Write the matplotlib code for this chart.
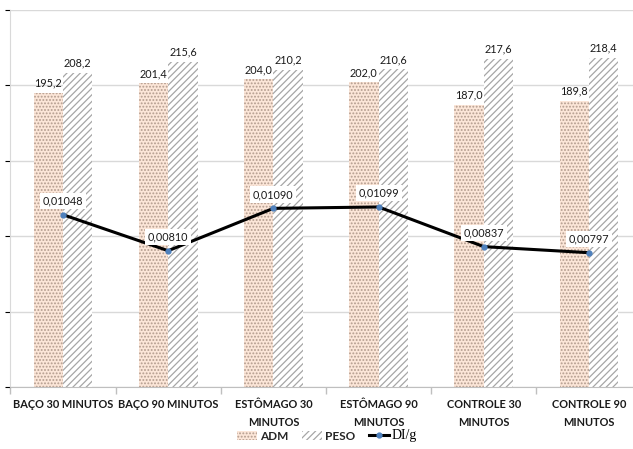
import matplotlib
matplotlib.use("Agg")
import matplotlib.pyplot as plt
import numpy as np
from matplotlib.lines import Line2D

categories = ["BAÇO 30 MINUTOS", "BAÇO 90 MINUTOS", "ESTÔMAGO 30\nMINUTOS",
              "ESTÔMAGO 90\nMINUTOS", "CONTROLE 30\nMINUTOS", "CONTROLE 90\nMINUTOS"]
adm = [195.2, 201.4, 204.0, 202.0, 187.0, 189.8]
peso = [208.2, 215.6, 210.2, 210.6, 217.6, 218.4]
dig = [0.01048, 0.00810, 0.01090, 0.01099, 0.00837, 0.00797]

plt.rcParams['font.family'] = ['Lato', 'DejaVu Sans']
plt.rcParams['hatch.linewidth'] = 0.9

fig = plt.figure(figsize=(6.33, 4.49), dpi=100)
ax = fig.add_axes([10.4/633, 62/449, 631.2/633, 377/449])

x = np.arange(len(categories))
w = 0.28
b1 = ax.bar(x - w/2, adm, w, facecolor='#fce6d8', edgecolor='#b39c8e',
            hatch='.....', linewidth=0, label='ADM', zorder=2)
b2 = ax.bar(x + w/2, peso, w, facecolor='white', edgecolor='#a6a6a6',
            hatch='/////', linewidth=0, label='PESO', zorder=2)

def fmt(v, nd):
    return f"{v:.{nd}f}".replace('.', ',')

for xi, v in zip(x - w/2, adm):
    ax.annotate(fmt(v, 1), (xi, v), xytext=(0, 7), textcoords='offset points',
                ha='center', va='center', fontsize=7.8, color='#1a1a1a')
for xi, v in zip(x + w/2, peso):
    ax.annotate(fmt(v, 1), (xi, v), xytext=(0, 7), textcoords='offset points',
                ha='center', va='center', fontsize=7.8, color='#1a1a1a')

ax.set_xlim(-0.5, len(categories) - 0.5)
ax.set_ylim(0, 250)
ax.set_yticks([0, 50, 100, 150, 200, 250])
ax.yaxis.grid(True, color='#d9d9d9', linewidth=1)
ax.set_axisbelow(True)
ax.tick_params(axis='y', left=False, labelleft=False)
ax.set_xticks(x)
ax.set_xticklabels(categories, fontsize=7.9, fontweight='bold', color='#1a1a1a',
                   linespacing=1.75)
ax.tick_params(axis='x', length=0, pad=9)
ax.set_xticks(np.arange(-0.5, len(categories)), minor=True)
ax.tick_params(axis='x', which='minor', length=5, color='#bfbfbf', width=1)
for s in ['top', 'right']:
    ax.spines[s].set_visible(False)
ax.spines['left'].set_color('#d9d9d9')
ax.spines['bottom'].set_color('#bfbfbf')

ax2 = ax.twinx()
ax2.set_ylim(-0.0009, 0.024)
ln, = ax2.plot(x, dig, color='black', linewidth=2.2, marker='o', markersize=3.5,
               markerfacecolor='#4f81bd', markeredgecolor='#4f81bd', zorder=3,
               label='DI/g')
for xi, v in zip(x, dig):
    ax2.annotate(fmt(v, 5), (xi, v), xytext=(0, 10), textcoords='offset points',
                 ha='center', va='center', fontsize=7.8, color='#1a1a1a',
                 bbox=dict(boxstyle='square,pad=0.25', facecolor='white',
                           edgecolor='none'))
ax2.axis('off')

handles = [b1, b2, Line2D([], [], color='black', linewidth=2.2, marker='o',
                          markersize=3.5, markerfacecolor='#4f81bd',
                          markeredgecolor='#4f81bd')]
leg = fig.legend(handles, ['ADM', 'PESO', 'DI/g'], loc='center',
                 bbox_to_anchor=(327/633, 1 - 436/449), ncol=3, frameon=False,
                 fontsize=8.5, handlelength=1.7, handleheight=0.8,
                 columnspacing=1.2, handletextpad=0.2)
for t in leg.get_texts()[:2]:
    t.set_fontweight('bold')
    t.set_color('#262626')
leg.get_texts()[2].set_family(['Liberation Serif', 'DejaVu Serif'])
leg.get_texts()[2].set_fontsize(10)

fig.savefig('out.png', dpi=100)
